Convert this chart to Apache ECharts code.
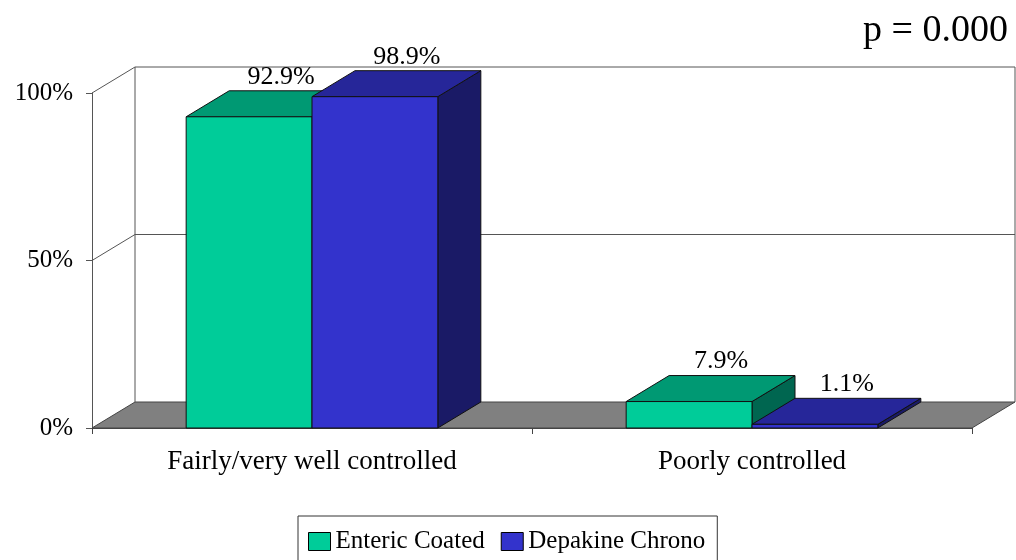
<!DOCTYPE html>
<html>
<head>
<meta charset="utf-8">
<script src="https://cdn.jsdelivr.net/npm/echarts@6/dist/echarts.min.js"></script>
<style>
  html, body { margin: 0; padding: 0; background: #fff; }
  #chart { width: 1016px; height: 560px; }
</style>
</head>
<body>
<div id="chart"></div>
<script>
var categories = ['Fairly/very well controlled', 'Poorly controlled'];
var seriesNames = ['Enteric Coated', 'Depakine Chrono'];
var entericCoated = [92.9, 7.9];
var depakineChrono = [98.9, 1.1];
var yTicks = [0, 50, 100];
var pText = 'p = 0.000';

// 3D depth offset (px)
var DX = 43, DY = -26;
var FONT = 'Liberation Serif, Times New Roman, serif';

var chart = echarts.init(document.getElementById('chart'));

function wallItem(params, api) {
    var c0 = api.coord([0, 0]);
    var band = api.size([1, 0])[0];
    var L = c0[0] - band / 2;
    var R = L + band * categories.length;
    var y0 = c0[1];
    var yTop = api.coord([0, yTicks[yTicks.length - 1]])[1];
    var lineStyle = { stroke: '#555', lineWidth: 1, fill: null };
    var children = [];
    // floor
    children.push({
        type: 'polygon',
        shape: { points: [[L, y0], [R, y0], [R + DX, y0 + DY], [L + DX, y0 + DY]] },
        style: { fill: '#808080', stroke: '#444', lineWidth: 1 }
    });
    // grid lines on side wall and back wall
    yTicks.forEach(function (t) {
        if (t === 0) return;
        var y = api.coord([0, t])[1];
        children.push({
            type: 'polyline',
            shape: { points: [[L, y], [L + DX, y + DY], [R + DX, y + DY]] },
            style: lineStyle
        });
    });
    // back wall edges
    children.push({ type: 'line', shape: { x1: L + DX, y1: yTop + DY, x2: L + DX, y2: y0 + DY }, style: lineStyle });
    children.push({ type: 'line', shape: { x1: R + DX, y1: yTop + DY, x2: R + DX, y2: y0 + DY }, style: lineStyle });
    return { type: 'group', children: children };
}

function barItem(side, colors) {
    return function (params, api) {
        var cat = api.value(0), val = api.value(1);
        var base = api.coord([cat, 0]);
        var top = api.coord([cat, val]);
        var band = api.size([1, 0])[0];
        var w = band * 0.286;
        var x0 = side < 0 ? base[0] - w : base[0];
        var x1 = x0 + w;
        var yb = base[1], yt = top[1];
        var edge = { stroke: '#111', lineWidth: 1 };
        return {
            type: 'group',
            children: [
                {
                    type: 'polygon',
                    shape: { points: [[x1, yt], [x1 + DX, yt + DY], [x1 + DX, yb + DY], [x1, yb]] },
                    style: Object.assign({ fill: colors[2] }, edge)
                },
                {
                    type: 'polygon',
                    shape: { points: [[x0, yt], [x1, yt], [x1 + DX, yt + DY], [x0 + DX, yt + DY]] },
                    style: Object.assign({ fill: colors[1] }, edge)
                },
                {
                    type: 'rect',
                    shape: { x: x0, y: yt, width: w, height: yb - yt },
                    style: Object.assign({ fill: colors[0] }, edge)
                },
                {
                    type: 'text',
                    style: {
                        text: val.toFixed(1) + '%',
                        x: (x0 + x1) / 2 + 32,
                        y: yt + DY - 1,
                        align: 'center',
                        verticalAlign: 'bottom',
                        fontSize: 26,
                        fontFamily: FONT,
                        fill: '#000'
                    }
                }
            ]
        };
    };
}

var greens = ['#00CC99', '#009973', '#006650'];
var blues = ['#3333CC', '#262699', '#1A1A66'];

var option = {
    animation: false,
    title: {
        text: pText,
        right: 3,
        top: 7,
        textStyle: { fontFamily: FONT, fontWeight: 'normal', fontSize: 38, color: '#000' }
    },
    grid: { left: 92, right: 44, top: 93, bottom: 132 },
    legend: {
        data: seriesNames,
        left: 298,
        top: 516,
        icon: 'rect',
        itemWidth: 22,
        itemHeight: 18,
        itemGap: 16,
        padding: [13, 12, 14, 10],
        borderColor: '#333',
        borderWidth: 1,
        itemStyle: { borderColor: '#000', borderWidth: 1 },
        textStyle: { fontFamily: FONT, fontSize: 25, color: '#000' }
    },
    xAxis: {
        type: 'category',
        data: categories,
        axisLine: { show: true, lineStyle: { color: '#444' } },
        axisTick: { show: true, length: 6, lineStyle: { color: '#444' } },
        axisLabel: { margin: 20, fontFamily: FONT, fontSize: 27, color: '#000' },
        splitLine: { show: false }
    },
    yAxis: {
        type: 'value',
        min: 0,
        max: 100,
        interval: 50,
        axisLine: { show: true, lineStyle: { color: '#555' } },
        axisTick: { show: true, length: 6, lineStyle: { color: '#555' } },
        axisLabel: { formatter: '{value}%', margin: 19, fontFamily: FONT, fontSize: 25, color: '#000' },
        splitLine: { show: false }
    },
    series: [
        {
            name: 'walls',
            type: 'custom',
            silent: true,
            z: 1,
            renderItem: wallItem,
            data: [[0, 0]],
            encode: { x: 0, y: 1 }
        },
        {
            name: seriesNames[0],
            type: 'custom',
            z: 2,
            itemStyle: { color: greens[0] },
            renderItem: barItem(-1, greens),
            data: entericCoated.map(function (v, i) { return [i, v]; }),
            encode: { x: 0, y: 1 }
        },
        {
            name: seriesNames[1],
            type: 'custom',
            z: 3,
            itemStyle: { color: blues[0] },
            renderItem: barItem(1, blues),
            data: depakineChrono.map(function (v, i) { return [i, v]; }),
            encode: { x: 0, y: 1 }
        }
    ]
};
chart.setOption(option);
</script>
</body>
</html>
